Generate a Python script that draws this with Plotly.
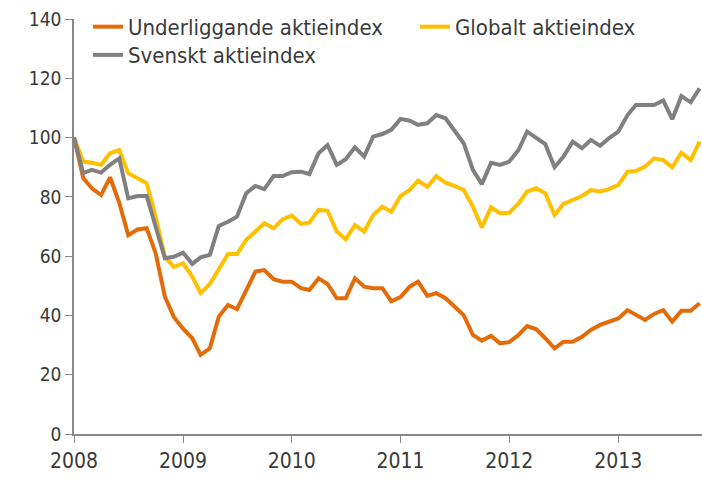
import plotly.graph_objects as go
import pandas as pd

dates = pd.date_range("2008-01-01", periods=70, freq="MS")

underliggande = [100, 86.3, 82.9, 80.6, 86.6, 78, 67.1, 69, 69.4, 61, 46.3, 39.5,
                 35.5, 32.3, 26.7, 28.9, 39.6, 43.5, 42.1, 48.6, 54.8, 55.3, 52.2, 51.4,
                 51.4, 49.2, 48.6, 52.5, 50.6, 45.8, 45.8, 52.5, 49.7, 49.2, 49.2, 44.8,
                 46.2, 49.7, 51.4, 46.6, 47.5, 45.8, 43.2, 40.1, 33.4, 31.5, 33.1, 30.6,
                 31, 33.4, 36.4, 35.3, 32.3, 28.9, 31.1, 31.1, 32.8, 35.1, 36.8, 37.9,
                 39, 41.8, 40.1, 38.5, 40.5, 41.8, 37.9, 41.6, 41.6, 44.1]

globalt = [100, 91.9, 91.5, 90.8, 94.7, 95.8, 88, 86.3, 84.6, 73.3, 59.8, 56.4,
           57.6, 53.1, 47.5, 50.6, 55.9, 60.7, 60.7, 65.5, 68.3, 71.1, 69.4, 72.4,
           73.7, 70.9, 71.3, 75.6, 75.3, 68.3, 65.7, 70.5, 68.3, 73.9, 76.7, 75,
           80.3, 82.3, 85.5, 83.4, 87, 84.8, 83.7, 82.3, 76.7, 69.7, 76.5, 74.5,
           74.6, 77.8, 81.8, 82.9, 81.2, 73.9, 77.6, 78.9, 80.3, 82.3, 81.8, 82.6,
           84, 88.5, 88.7, 90.2, 93, 92.4, 90, 94.9, 92.4, 98.6]

svenskt = [100, 88, 89.1, 88.2, 90.8, 93, 79.5, 80.3, 80.3, 69.9, 59.3, 59.8,
           61.2, 57.4, 59.6, 60.4, 70.2, 71.6, 73.3, 81.2, 83.7, 82.6, 87, 87,
           88.3, 88.5, 87.7, 94.7, 97.5, 90.8, 92.7, 96.7, 93.6, 100.3, 101.2, 102.6,
           106.3, 105.7, 104.3, 104.8, 107.6, 106.5, 102.6, 98.1, 89.1, 84.3, 91.5, 90.8,
           91.9, 95.8, 102, 99.8, 97.8, 90, 93.6, 98.6, 96.4, 99.2, 97.2, 99.8,
           102, 107.6, 111, 111, 111, 112.5, 106.2, 114, 111.9, 116.6]

series_names = ["Underliggande aktieindex", "Globalt aktieindex", "Svenskt aktieindex"]
colors = ["#E36C09", "#FFC000", "#808080"]
tick_years = ["2008", "2009", "2010", "2011", "2012", "2013"]

FONT = "DejaVu Sans Condensed, Liberation Sans Narrow, Roboto, sans-serif"

fig = go.Figure()
legend_ids = ["legend", "legend2", "legend3"]
for name, vals, col, lg in zip(series_names, [underliggande, globalt, svenskt], colors, legend_ids):
    fig.add_trace(go.Scatter(x=dates, y=vals, mode="lines", name=name,
                             line=dict(color=col, width=4), legend=lg))

legend_common = dict(xanchor="left", yanchor="middle", bgcolor="rgba(0,0,0,0)",
                     font=dict(family=FONT, size=22, color="#3a3a3a"))

fig.update_layout(
    width=702, height=477,
    margin=dict(l=74, r=0, t=19, b=43),
    plot_bgcolor="white", paper_bgcolor="white",
    font=dict(family=FONT, size=18, color="#3a3a3a"),
    showlegend=True,
    legend=dict(x=0.0223, y=0.981, **legend_common),
    legend2=dict(x=0.543, y=0.981, **legend_common),
    legend3=dict(x=0.0223, y=0.913, **legend_common),
    xaxis=dict(range=["2008-01-01", "2013-10-09"],
               tickvals=[f"{y}-01-01" for y in tick_years], ticktext=tick_years,
               showgrid=False, zeroline=False, showline=True, linecolor="#888888",
               linewidth=1.5, ticks="outside", ticklen=7, tickcolor="#888888",
               tickfont=dict(size=21, color="#3a3a3a")),
    yaxis=dict(range=[0, 140], dtick=20, showgrid=False, zeroline=False,
               showline=True, linecolor="#888888", linewidth=1.5,
               ticks="outside", ticklen=7, tickcolor="#888888",
               tickfont=dict(size=19, color="#3a3a3a")),
)

fig.write_html("out.html", config={"displayModeBar": False},
               post_script="document.body.style.margin='0';document.body.style.overflow='hidden';")
